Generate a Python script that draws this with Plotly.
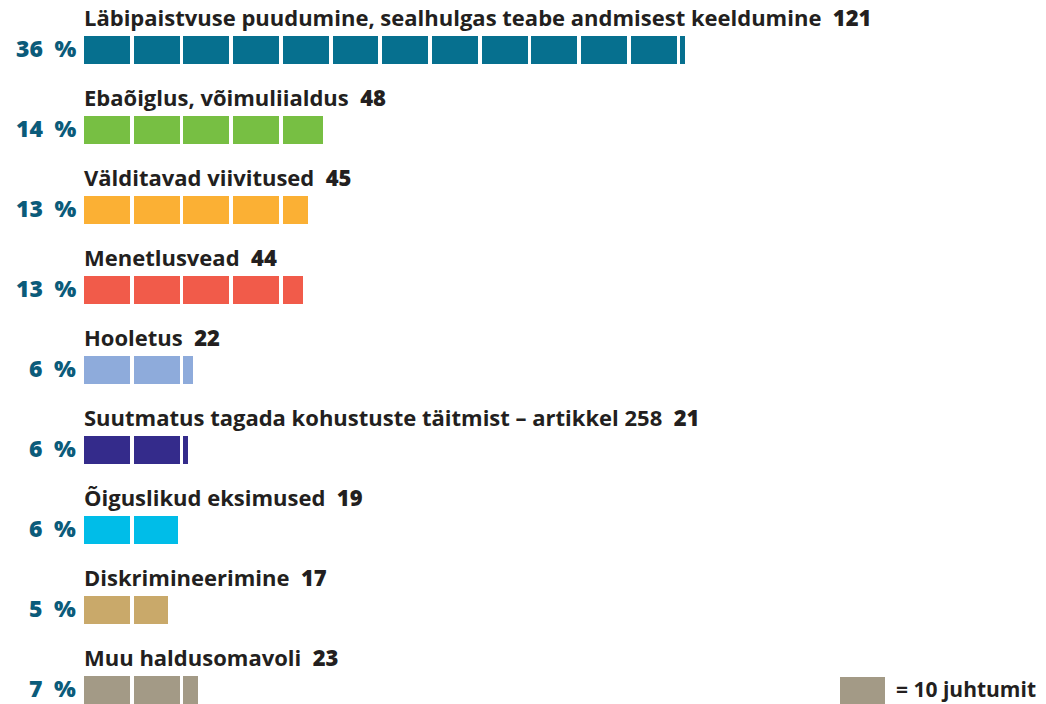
import plotly.graph_objects as go

categories = [
    "Läbipaistvuse puudumine, sealhulgas teabe andmisest keeldumine",
    "Ebaõiglus, võimuliialdus",
    "Välditavad viivitused",
    "Menetlusvead",
    "Hooletus",
    "Suutmatus tagada kohustuste täitmist – artikkel 258",
    "Õiguslikud eksimused",
    "Diskrimineerimine",
    "Muu haldusomavoli",
]
counts = [121, 48, 45, 44, 22, 21, 19, 17, 23]
percent_labels = ["36 %", "14 %", "13 %", "13 %", "6 %", "6 %", "6 %", "5 %", "7 %"]
colors = ["#06708f", "#77bf43", "#fbb034", "#f15b4a", "#8eabdb",
          "#342b8b", "#00bde8", "#c9a96a", "#a39a86"]
unit = 10
legend_text = "= 10 juhtumit"

W, H = 1046, 704
px_per_unit = 4.97
x0_px = 84
row0_px = 50
row_step = 80
gap_units = 0.76

fig = go.Figure()

for i, (cat, v, col) in enumerate(zip(categories, counts, colors)):
    bases, lengths = [], []
    k = 0
    while k * unit < v:
        rem = v - k * unit
        seg = unit - gap_units if rem >= unit else rem
        bases.append(k * unit)
        lengths.append(seg)
        k += 1
    fig.add_trace(go.Bar(
        x=lengths, base=bases, y=[i] * len(bases), orientation="h",
        marker=dict(color=col, line=dict(width=0)), width=0.35,
        showlegend=False, hoverinfo="skip",
    ))
    fig.add_annotation(
        x=-0.4, y=i - 0.41, xref="x", yref="y", xanchor="left", yanchor="middle",
        text=f"{cat}  <span style='font-weight:800'>{v}</span>",
        showarrow=False,
        font=dict(family="Open Sans", size=22, color="#231f20", weight=700),
    )
    fig.add_annotation(
        x=-1.3, y=i - 0.03, xref="x", yref="y", xanchor="right", yanchor="middle",
        text=percent_labels[i].replace(" ", "\u2002"), showarrow=False,
        font=dict(family="Open Sans", size=23, color="#0b5b7a", weight=800),
    )

# legend key
fig.add_shape(type="rect", xref="paper", yref="paper",
              x0=840 / W, x1=885 / W, y0=0, y1=1 - 677 / H,
              fillcolor=colors[-1], line=dict(width=0))
fig.add_annotation(x=894 / W, y=1 - 689 / H, xref="paper", yref="paper",
                   xanchor="left", yanchor="middle", text=legend_text,
                   showarrow=False,
                   font=dict(family="Open Sans", size=21, color="#231f20", weight=700))

x_min = -x0_px / px_per_unit
x_max = (W - x0_px) / px_per_unit
y_top = -row0_px / row_step
y_bot = (H - row0_px) / row_step

fig.update_layout(
    width=W, height=H, margin=dict(l=0, r=0, t=0, b=0),
    paper_bgcolor="white", plot_bgcolor="white",
    barmode="overlay", bargap=0,
    xaxis=dict(range=[x_min, x_max], visible=False, fixedrange=True),
    yaxis=dict(range=[y_bot, y_top], visible=False, fixedrange=True),
)

fig.write_html("out.html")
